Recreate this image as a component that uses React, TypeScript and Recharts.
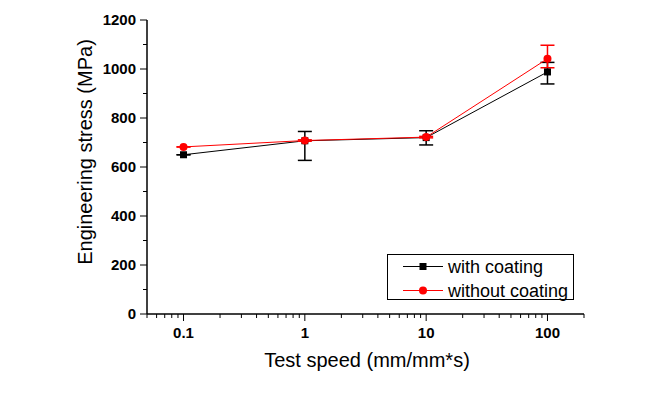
import { LineChart, Line, XAxis, YAxis, ErrorBar, Legend } from 'recharts';

const speeds = [0.1, 1, 10, 100];
const withCoating = [650, 707, 720, 988];
const withCoatingErr = [[0, 0], [80, 38], [30, 28], [49, 39]];
const withoutCoating = [682, 708, 722, 1042];
const withoutCoatingErr = [[0, 0], [3, 3], [3, 3], [37, 55]];

const xMajorTicks = [0.1, 1, 10, 100];
const xMinorTicks = [
  0.05, 0.06, 0.07, 0.08, 0.09,
  0.2, 0.3, 0.4, 0.5, 0.6, 0.7, 0.8, 0.9,
  2, 3, 4, 5, 6, 7, 8, 9,
  20, 30, 40, 50, 60, 70, 80, 90, 200,
];
const yMajorTicks = [0, 200, 400, 600, 800, 1000, 1200];
const yMinorTicks = [100, 300, 500, 700, 900, 1100];

const data = speeds.map((s, i) => ({
  speed: s,
  withC: withCoating[i],
  withErr: withCoatingErr[i],
  withoutC: withoutCoating[i],
  withoutErr: withoutCoatingErr[i],
}));

const FONT = '"Liberation Sans", Arial, sans-serif';

const XTick = (props: any) => {
  const { x, y, payload, showLabel } = props;
  const major = xMajorTicks.includes(payload.value);
  const len = major ? 7 : 4;
  return (
    <g>
      <line x1={x} x2={x} y1={y} y2={y + len} stroke="#000" strokeWidth={1} />
      {showLabel && major && (
        <text x={x} y={y + 24} textAnchor="middle" fontFamily={FONT} fontWeight="bold" fontSize={15} fill="#000">
          {String(payload.value)}
        </text>
      )}
    </g>
  );
};

const YTick = (props: any) => {
  const { x, y, payload, showLabel } = props;
  const major = yMajorTicks.includes(payload.value);
  const len = major ? 7 : 4;
  return (
    <g>
      <line x1={x} x2={x - len} y1={y} y2={y} stroke="#000" strokeWidth={1} />
      {showLabel && major && (
        <text x={x - 11} y={y + 5} textAnchor="end" fontFamily={FONT} fontWeight="bold" fontSize={15} fill="#000">
          {payload.value}
        </text>
      )}
    </g>
  );
};

const Square = (props: any) => {
  const { cx, cy, index } = props;
  return <rect key={`sq-${index}`} x={cx - 3.5} y={cy - 3.5} width={7} height={7} fill="#000" />;
};

const Circle = (props: any) => {
  const { cx, cy, index } = props;
  return <circle key={`ci-${index}`} cx={cx} cy={cy} r={4} fill="#ff0000" />;
};

const renderLegend = (props: any) => {
  const { payload } = props;
  return (
    <div
      style={{
        width: 187,
        height: 46,
        boxSizing: 'border-box',
        border: '1px solid #000',
        background: '#fff',
        position: 'relative',
      }}
    >
      {payload.map((entry: any, i: number) => (
        <div key={entry.value} style={{ position: 'absolute', left: 0, top: i * 24, height: 24, width: 187 }}>
          <svg width={60} height={24} style={{ position: 'absolute', left: 0, top: 0 }}>
            <line x1={15} x2={55} y1={11.5} y2={11.5} stroke={entry.color} strokeWidth={1.2} />
            {i === 0 ? (
              <rect x={31.5} y={8} width={7} height={7} fill={entry.color} />
            ) : (
              <circle cx={35} cy={11.5} r={4} fill={entry.color} />
            )}
          </svg>
          <span
            style={{
              position: 'absolute',
              left: 60,
              top: 0,
              lineHeight: '24px',
              fontFamily: FONT,
              fontSize: 18,
              color: '#000',
              whiteSpace: 'nowrap',
            }}
          >
            {entry.value}
          </span>
        </div>
      ))}
    </div>
  );
};

export default function App() {
  return (
    <LineChart width={650} height={392} data={data} margin={{ top: 12, right: 74, left: 0, bottom: 0 }}>
      <XAxis
        dataKey="speed"
        type="number"
        scale="log"
        domain={[0.05, 200]}
        allowDataOverflow
        ticks={[...xMajorTicks, ...xMinorTicks]}
        interval={0}
        height={86}
        tickSize={0}
        tickMargin={0}
        axisLine={{ stroke: '#000', strokeWidth: 1.5 }}
        tick={<XTick showLabel />}
        label={() => (
          <text x={359} y={359} textAnchor="middle" fontFamily={FONT} fontSize={20} fill="#000">
            Test speed (mm/mm*s)
          </text>
        )}
      />
      <XAxis
        xAxisId="top"
        orientation="top"
        dataKey="speed"
        type="number"
        scale="log"
        domain={[0.05, 200]}
        allowDataOverflow
        ticks={[...xMajorTicks, ...xMinorTicks]}
        interval={0}
        height={0}
        tickSize={0}
        tickMargin={0}
        axisLine={{ stroke: '#000', strokeWidth: 1.5 }}
        tick={<XTick showLabel={false} />}
      />
      <YAxis
        type="number"
        domain={[0, 1200]}
        ticks={[...yMajorTicks, ...yMinorTicks]}
        interval={0}
        width={139}
        tickSize={0}
        tickMargin={0}
        axisLine={{ stroke: '#000', strokeWidth: 1.5 }}
        tick={<YTick showLabel />}
        label={() => (
          <text
            x={84}
            y={144}
            transform="rotate(-90 84 144)"
            textAnchor="middle"
            fontFamily={FONT}
            fontSize={20}
            fill="#000"
          >
            Engineering stress (MPa)
          </text>
        )}
      />
      <YAxis
        yAxisId="right"
        orientation="right"
        type="number"
        domain={[0, 1200]}
        ticks={[...yMajorTicks, ...yMinorTicks]}
        interval={0}
        width={0}
        tickSize={0}
        tickMargin={0}
        axisLine={{ stroke: '#000', strokeWidth: 1.5 }}
        tick={<YTick showLabel={false} />}
      />
      <Legend
        layout="vertical"
        align="center"
        verticalAlign="middle"
        content={renderLegend}
        wrapperStyle={{ position: 'absolute', left: 379, top: 246, width: 187, height: 46 }}
      />
      <Line
        dataKey="withC"
        name="with coating"
        stroke="#000"
        strokeWidth={1}
        dot={<Square />}
        activeDot={false}
        isAnimationActive={false}
      >
        <ErrorBar dataKey="withErr" width={7} stroke="#000" strokeWidth={1.5} direction="y" isAnimationActive={false} />
      </Line>
      <Line
        dataKey="withoutC"
        name="without coating"
        stroke="#ff0000"
        strokeWidth={1}
        dot={<Circle />}
        activeDot={false}
        isAnimationActive={false}
      >
        <ErrorBar dataKey="withoutErr" width={7} stroke="#ff0000" strokeWidth={1.5} direction="y" isAnimationActive={false} />
      </Line>
    </LineChart>
  );
}
